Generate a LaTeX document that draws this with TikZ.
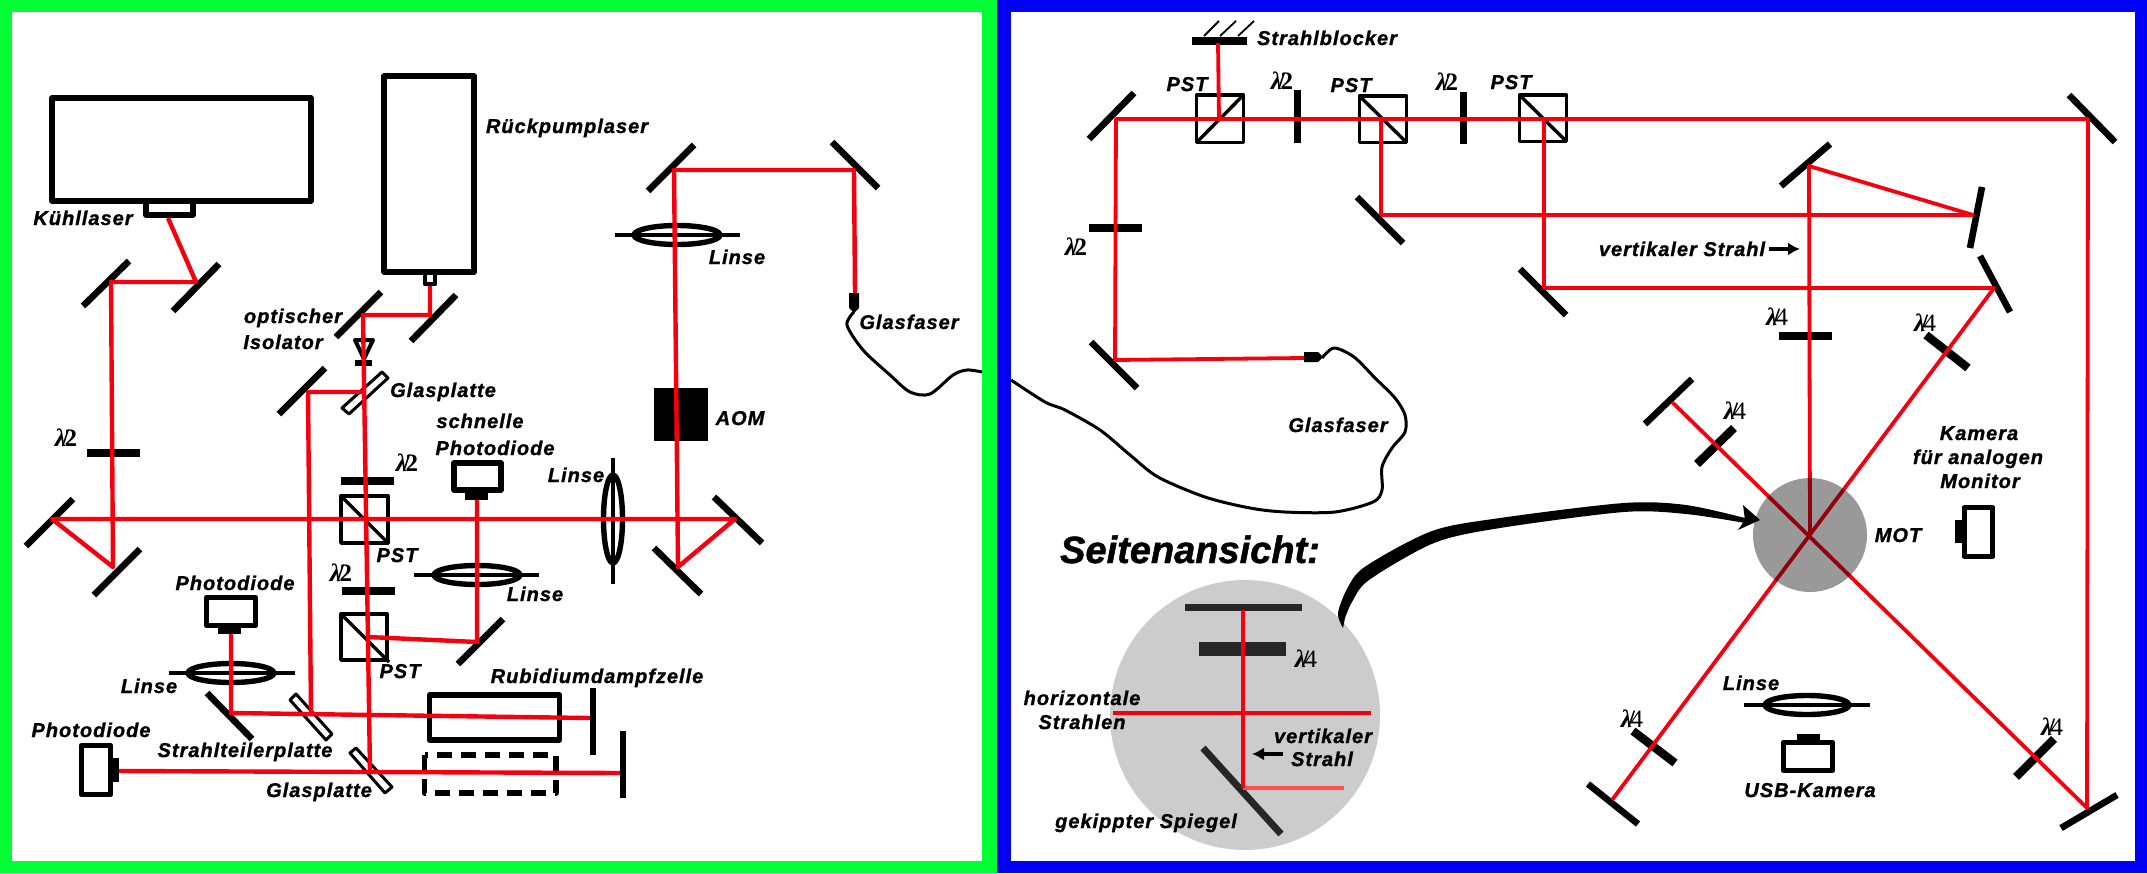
\documentclass[tikz,border=0pt]{standalone}
\usepackage{fontspec}
\usepackage{xcolor}
\usetikzlibrary{arrows.meta}
\newfontfamily\labfont[LetterSpace=5,FakeBold=1.2]{Liberation Sans}
\newfontfamily\headfont[FakeBold=1.2]{Liberation Sans}
\newfontfamily\lamfont{Liberation Serif}
\newcommand{\lamtext}[1]{{\lamfont\fontsize{25}{27}\selectfont\bfseries\itshape λ\kern-4pt\upshape/\kern-4.5pt\mdseries #1}}
\definecolor{framegreen}{RGB}{0,255,51}
\definecolor{frameblue}{RGB}{0,0,245}
\definecolor{beamred}{RGB}{245,0,15}
\definecolor{softred}{RGB}{255,80,80}

\begin{document}
\begin{tikzpicture}[x=1pt,y=-1pt,line join=round,
  beam/.style={draw=beamred,line width=4.4pt},
  thinbeam/.style={draw=beamred,line width=3.8pt},
  mirror/.style={draw=black,line width=6.6pt},
  plate/.style={draw=black,line width=8.4pt},
  box/.style={draw=black,line width=5.6pt},
  cube/.style={draw=black,line width=3.4pt},
  thinplate/.style={draw=black,line width=3pt,fill=white},
  fiber/.style={draw=black,line width=3pt},
  lensrim/.style={draw=black,line width=5.4pt},
  lensaxis/.style={draw=black,line width=3.4pt},
  lab/.style={font=\labfont\bfseries\itshape\fontsize{20}{24}\selectfont,inner sep=0pt,anchor=base},
  lam/.style={inner sep=0pt}]
\useasboundingbox (0,0) rectangle (2147,873);
\fill[framegreen] (0,0) rectangle (997,873);
\fill[frameblue] (997,0) rectangle (2147,873);
\fill[white] (12,12) rectangle (982,861);
\fill[white] (1011,12) rectangle (2135,861);

\coordinate (kuehlOut) at (168,218);
\coordinate (kuehlA) at (196,282);
\coordinate (kuehlB) at (111,282);
\coordinate (kuehlC) at (113,567);
\coordinate (kuehlD) at (52,519);
\coordinate (kuehlE) at (735,519);
\coordinate (kuehlF) at (678,567);
\coordinate (kuehlG) at (674,170);
\coordinate (kuehlH) at (854,170);
\coordinate (koppelL) at (855,293);
\coordinate (rueckOut) at (430,286);
\coordinate (rueckA) at (430,315);
\coordinate (rueckB) at (363,315);
\coordinate (rueckC) at (370,772);
\coordinate (diodeB) at (119,771);
\coordinate (zelleB) at (620,773);
\coordinate (glasA) at (364,392);
\coordinate (glasB) at (308,392);
\coordinate (glasC) at (311,714);
\coordinate (diodeA) at (231,634);
\coordinate (teilerA) at (231,713);
\coordinate (zelleA) at (590,718);
\coordinate (schnellOut) at (477,500);
\coordinate (schnellA) at (477,642);
\coordinate (schnellB) at (368,637);
\coordinate (blocker) at (1218,43);
\coordinate (pstA) at (1219,119);
\coordinate (hauptA) at (1116,119);
\coordinate (hauptB) at (2088,119);
\coordinate (hauptC) at (2087,808);
\coordinate (motLinks) at (1672,402);
\coordinate (koppelR) at (1304,358);
\coordinate (unterA) at (1115,360);
\coordinate (pstB) at (1381,119);
\coordinate (pstC) at (1381,215);
\coordinate (kippA) at (1973,215);
\coordinate (kippB) at (1809,166);
\coordinate (mot) at (1810,535);
\coordinate (pstD) at (1544,119);
\coordinate (pstE) at (1544,288);
\coordinate (kippC) at (1994,288);
\coordinate (motUnten) at (1612,800);

\draw[box] (52,98) rectangle (311,201);
\draw[box] (146,201) rectangle (193,215);
\draw[box] (384,76) rectangle (474,272);
\draw[line width=4.4pt] (425,273) rectangle (435,284);
\draw[mirror] (83,306) -- (129,261);
\draw[mirror] (173,311) -- (219,264);
\draw[mirror] (336,337) -- (381,292);
\draw[mirror] (411,341) -- (456,295);
\draw[mirror] (279,414) -- (325,368);
\draw[mirror] (26,546) -- (73,499);
\draw[mirror] (94,595) -- (140,549);
\draw[mirror] (458,664) -- (503,619);
\draw[mirror] (648,191) -- (694,145);
\draw[mirror] (832,142) -- (878,188);
\draw[mirror] (714,497) -- (762,543);
\draw[mirror] (654,548) -- (701,594);
\draw[mirror] (207,693) -- (252,739);
\draw[mirror] (593,688) -- (593,755);
\draw[mirror] (623,731) -- (623,798);
\draw[plate] (87,453) -- (140,453);
\draw[plate] (341,481) -- (394,481);
\draw[plate] (342,591) -- (395,591);
\draw[cube] (341,496) rectangle (388,543);
\draw[cube] (340,495) -- (389,544);
\draw[cube] (341,614) rectangle (387,660);
\draw[cube] (340,613) -- (389,662);
\draw[box] (454,463) rectangle (501,490);
\fill (465,490) rectangle (488,500);
\draw[box] (206.5,597.5) rectangle (255.5,625.5);
\fill (218,623) rectangle (241,634);
\draw[box] (81.5,745.5) rectangle (110.5,794.5);
\fill (113,758) rectangle (119,782);
\draw[box] (429.5,695) rectangle (559.5,740);
\draw[box,dash pattern=on 15pt off 9pt] (424.5,755) rectangle (556,793);
\fill (654,388) rectangle (708,441);
\draw[thinplate] (342,408) -- (349,414) -- (388,378) -- (382,372) -- cycle;
\draw[thinplate] (290,700) -- (296,694) -- (332,734) -- (326,740) -- cycle;
\draw[thinplate] (350,753) -- (356,748) -- (392,787) -- (385,793) -- cycle;
\draw[lensaxis] (615,235) -- (740,235);
\draw[lensrim] (677,235) ellipse [x radius=43pt,y radius=9.5pt];
\draw[lensaxis] (414,575) -- (539,575);
\draw[lensrim] (477,575) ellipse [x radius=43pt,y radius=9.5pt];
\draw[lensaxis] (169,673) -- (295,673);
\draw[lensrim] (231,673) ellipse [x radius=43pt,y radius=9.5pt];
\draw[lensaxis] (613,458) -- (613,584);
\draw[lensrim] (613,519) ellipse [x radius=9.5pt,y radius=44pt];
\draw[draw=black,line width=4pt,fill=white] (355,340) -- (373,340) -- (364,359) -- cycle;
\draw[box] (355,363) -- (372,363);
\draw[beam] (kuehlOut) -- (kuehlA) -- (kuehlB) -- (kuehlC) -- (kuehlD) -- (kuehlE) -- (kuehlF) -- (kuehlG) -- (kuehlH) -- (koppelL);
\draw[beam] (rueckOut) -- (rueckA) -- (rueckB) -- (rueckC);
\draw[beam] (diodeB) -- (zelleB);
\draw[beam] (glasA) -- (glasB) -- (glasC);
\draw[beam] (diodeA) -- (teilerA) -- (zelleA);
\draw[beam] (schnellOut) -- (schnellA) -- (schnellB);
\fill (849,293) -- (859,293) -- (859,308) -- (854,313) -- (849,308) -- cycle;
\draw[fiber] plot[smooth] coordinates {(854,312) (847,325) (863,350) (890,375) (910,392) (930,394) (953,375) (967,370) (982,372)};

\node[lab] (kuehllaser) at (83,225) {Kühllaser};
\node[lab] (rueckpump) at (567,133) {Rückpumplaser};
\node[lab] (optisch) at (293,323) {optischer};
\node[lab] (isolator) at (283,349) {Isolator};
\node[lab] (glasplatteA) at (443,397) {Glasplatte};
\node[lab] (schnelle) at (480,428) {schnelle};
\node[lab] (fotoSchnell) at (495,455) {Photodiode};
\node[lab] (pstEins) at (397,562) {PST};
\node[lab] (pstZwei) at (400,678) {PST};
\node[lab] (linseA) at (737,264) {Linse};
\node[lab] (linseB) at (576,482) {Linse};
\node[lab] (linseC) at (535,601) {Linse};
\node[lab] (linseD) at (149,693) {Linse};
\node[lab] (aom) at (740,425) {AOM};
\node[lab] (fasernA) at (909,329) {Glasfaser};
\node[lab] (fotoA) at (235,590) {Photodiode};
\node[lab] (fotoB) at (91,737) {Photodiode};
\node[lab] (teiler) at (245,757) {Strahlteilerplatte};
\node[lab] (glasplatteB) at (319,797) {Glasplatte};
\node[lab] (rubidium) at (597,683) {Rubidiumdampfzelle};
\node[lam] (lamA) at (66,438) {\lamtext{\bfseries 2}};
\node[lam] (lamB) at (407,463) {\lamtext{\bfseries 2}};
\node[lam] (lamC) at (341,573) {\lamtext{\bfseries 2}};

\draw[plate] (1192,41) -- (1247,41);
\draw[line width=1.8pt] (1204,36) -- (1219,21);
\draw[line width=1.8pt] (1220,36) -- (1236,21);
\draw[line width=1.8pt] (1238,36) -- (1254,21);
\draw[cube] (1196.5,95) rectangle (1243.5,142.5);
\draw[cube] (1196.5,142.5) -- (1243.5,95);
\draw[cube] (1359.5,96) rectangle (1406.5,142.5);
\draw[cube] (1359.5,96) -- (1406.5,142.5);
\draw[cube] (1519.5,95) rectangle (1566.5,141.5);
\draw[cube] (1519.5,95) -- (1566.5,141.5);
\draw[plate,line width=7pt] (1297.5,90) -- (1297.5,143);
\draw[plate,line width=7pt] (1463.5,92) -- (1463.5,144);
\draw[plate] (1089,228) -- (1142,228);
\draw[plate] (1779,336) -- (1832,336);
\draw[plate] (1926,335) -- (1968,368);
\draw[plate] (1697,464) -- (1734,428);
\draw[plate] (1633,731) -- (1675,763);
\draw[plate] (2016,777) -- (2054,739);
\draw[mirror] (1089,139) -- (1134,93);
\draw[mirror] (1091,342) -- (1137,388);
\draw[mirror] (1357,197) -- (1403,243);
\draw[mirror] (1520,269) -- (1566,315);
\draw[mirror] (2069,95) -- (2115,142);
\draw[mirror] (1781,186) -- (1830,144);
\draw[mirror] (1970,248) -- (1982,187);
\draw[mirror] (1980,256) -- (2010,312);
\draw[mirror] (1645,424) -- (1692,379);
\draw[mirror] (1588,784) -- (1638,824);
\draw[mirror] (2061,828) -- (2117,795);
\draw[thinbeam] (blocker) -- (pstA);
\draw[thinbeam] (koppelR) -- (unterA) -- (hauptA) -- (hauptB) -- (hauptC) -- (motLinks);
\draw[thinbeam] (pstB) -- (pstC) -- (kippA) -- (kippB) -- (mot);
\draw[thinbeam] (pstD) -- (pstE) -- (kippC) -- (motUnten);
\fill[black,fill opacity=0.4] (mot) circle (57pt);
\fill (1304,352) -- (1318,352) -- (1323,357) -- (1318,362) -- (1304,362) -- cycle;
\draw[fiber] plot[smooth] coordinates {(1322,358) (1334,348) (1354,357) (1375,378) (1395,398) (1405,415) (1405,432) (1392,448) (1382,467) (1382,490) (1373,502) (1335,512) (1285,512) (1250,508) (1205,497) (1158,477) (1130,455) (1100,430) (1065,410) (1045,402) (1011,380)};
\draw[box] (1964.5,507.5) rectangle (1992.5,556.5);
\fill (1955,520) rectangle (1966,543);
\draw[lensaxis] (1744,705) -- (1870,705);
\draw[lensrim] (1807,705) ellipse [x radius=42pt,y radius=9.5pt];
\draw[box] (1783.5,742.5) rectangle (1832.5,770.5);
\fill (1797,734) rectangle (1820,742);
\draw[line width=3.5pt,-{Latex[length=12pt,width=13pt]}] (1769,249) -- (1800,249);

\fill[black!20] (1245,715) circle (135pt);
\draw[draw=black!85,line width=7pt] (1185,607) -- (1302,607);
\fill[black!85] (1199,642) rectangle (1286,656);
\draw[draw=black!85,line width=7pt] (1203,748) -- (1281,834);
\coordinate (seitTop) at (1243,610);
\coordinate (seitKipp) at (1243,788);
\coordinate (seitLinks) at (1113,713);
\coordinate (seitRechts) at (1371,713);
\coordinate (seitAus) at (1344,788);
\draw[draw=softred,line width=3.4pt] (seitKipp) -- (seitAus);
\draw[thinbeam] (seitTop) -- (seitKipp);
\draw[thinbeam] (seitLinks) -- (seitRechts);
\draw[line width=3.5pt,-{Latex[length=12pt,width=13pt]}] (1283,754) -- (1252,754);
\fill plot[smooth] coordinates {(1343,628) (1338,613) (1348,587) (1366,566) (1432,531) (1500,518) (1624,503) (1686,505) (1745,518)} -- plot[smooth] coordinates {(1745,523) (1686,514) (1624,512) (1500,528) (1434,543) (1369,580) (1352,602) (1345,618)} -- cycle;
\fill (1743,505) -- (1760,520) -- (1738,530) -- (1745,520) -- cycle;

\node[lab] (blockerLab) at (1327,45) {Strahlblocker};
\node[lab] (pstDrei) at (1187,91) {PST};
\node[lab] (pstVier) at (1351,92) {PST};
\node[lab] (pstFuenf) at (1511,89) {PST};
\node[lab] (fasernB) at (1338,432) {Glasfaser};
\node[lab] (vertStrahl) at (1682,256) {vertikaler Strahl};
\node[lab] (motLab) at (1898,542) {MOT};
\node[lab] (kamera) at (1979,440) {Kamera};
\node[lab] (analog) at (1978,464) {für analogen};
\node[lab] (monitor) at (1980,488) {Monitor};
\node[lab] (linseE) at (1751,690) {Linse};
\node[lab] (usb) at (1810,797) {USB-Kamera};
\node[lab,font=\headfont\bfseries\itshape\fontsize{38}{40}\selectfont] (seite) at (1190,563) {Seitenansicht:};
\node[lab] (horizA) at (1082,705) {horizontale};
\node[lab] (horizB) at (1082,729) {Strahlen};
\node[lab] (vertA) at (1323,743) {vertikaler};
\node[lab] (vertB) at (1322,766) {Strahl};
\node[lab] (gekippt) at (1146,828) {gekippter Spiegel};
\node[lam] (lamD) at (1282,81) {\lamtext{\bfseries 2}};
\node[lam] (lamE) at (1447,82) {\lamtext{\bfseries 2}};
\node[lam] (lamF) at (1076,247) {\lamtext{\bfseries 2}};
\node[lam] (lamG) at (1777,317) {\lamtext{4}};
\node[lam] (lamH) at (1925,323) {\lamtext{4}};
\node[lam] (lamI) at (1735,411) {\lamtext{4}};
\node[lam] (lamJ) at (1632,719) {\lamtext{4}};
\node[lam] (lamK) at (2052,727) {\lamtext{4}};
\node[lam] (lamL) at (1306,659) {\lamtext{4}};
\end{tikzpicture}
\end{document}
